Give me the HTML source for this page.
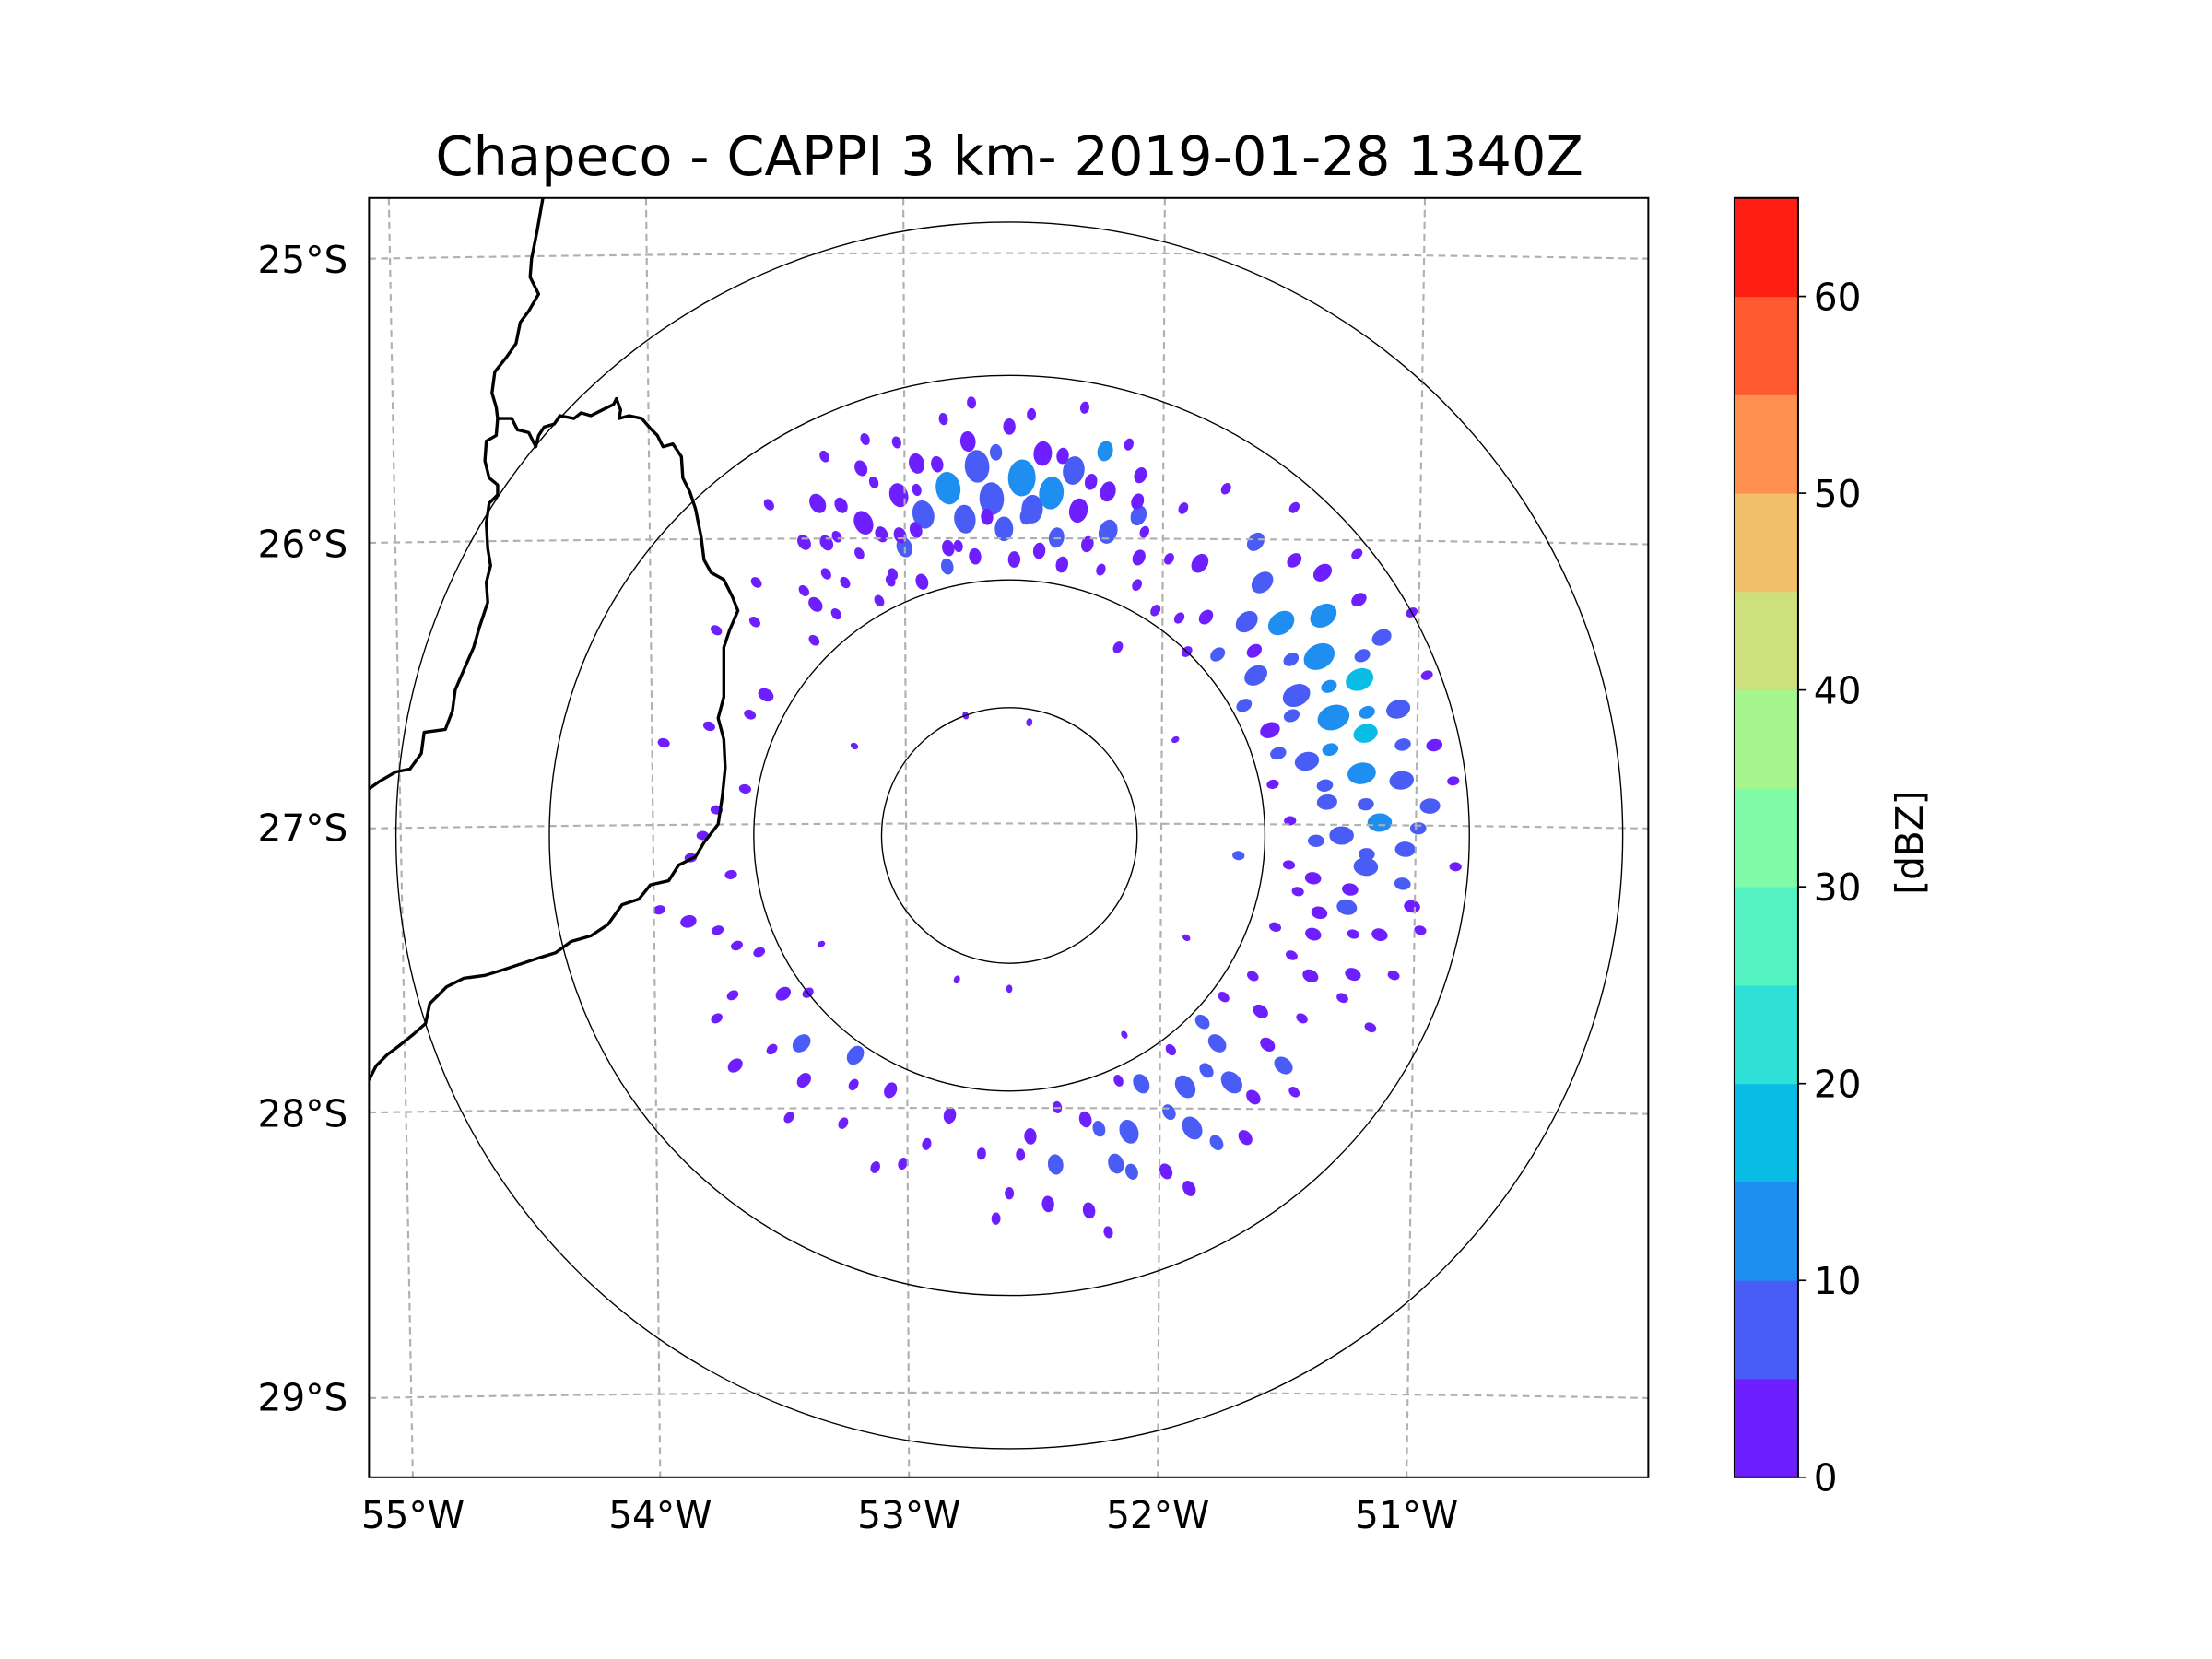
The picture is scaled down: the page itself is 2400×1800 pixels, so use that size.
<!DOCTYPE html>
<html><head><meta charset="utf-8"><style>
html,body{margin:0;padding:0;background:#fff;}
svg{display:block;}
text{font-family:"DejaVu Sans","Liberation Sans",sans-serif;fill:#000;}
</style></head><body>
<svg id="chart" width="2400" height="1800" viewBox="0 0 2400 1800" xmlns="http://www.w3.org/2000/svg">
<rect width="2400" height="1800" fill="#fff"/>
<g transform="translate(-3,-3) scale(1.5337)">
  <text x="716" y="126" font-size="38.5" text-anchor="middle">Chapeco - CAPPI 3 km- 2019-01-28 1340Z</text>
  <defs><clipPath id="axclip"><rect x="263" y="142" width="905" height="905"/></clipPath></defs>
  <g clip-path="url(#axclip)" id="plot">
    <g id="echoes"></g>
    <g fill="none" stroke="#b0b0b0" stroke-width="1.4" stroke-dasharray="5,3.5">
      <path d="M277,142 L294,1047"/>
      <path d="M459,142 L469,1047"/>
      <path d="M641,142 L645,1047"/>
      <path d="M826,142 L821,1047"/>
      <path d="M1010,142 L997,1047"/>
      <path d="M263,185 Q716,177 1168,185"/>
      <path d="M263,386 Q716,379 1168,387"/>
      <path d="M263,588 Q716,581 1168,588"/>
      <path d="M263,789 Q716,782 1168,790"/>
      <path d="M263,991 Q716,983 1168,991"/>
    </g>
    <g id="rings" fill="none" stroke="#000" stroke-width="0.9"></g>
    <g fill="none" stroke="#000" stroke-width="2.2" stroke-linejoin="round">
      <path d="M386,142 L382,165 L378,185 L377,198 L383,210 L376,222 L370,230 L367,245 L360,255 L352,265 L350,280 L353,290 L354,298 L353,310 L346,314 L345,328 L348,340 L354,345 L354,352 L348,358 L346,372 L347,390 L349,402 L346,414 L347,428 L341,446 L337,460 L330,476 L324,490 L322,505 L317,518 L302,520 L300,535 L292,546 L282,548 L270,555 L263,560"/>
      <path d="M354,298 L364,298 L368,306 L376,308 L381,318 L383,310 L387,304 L394,302 L398,296 L408,298 L413,294 L420,296 L430,291 L436,288 L438,284 L441,292 L440,298 L447,296 L456,298 L462,305 L467,310 L471,318 L478,316 L484,325 L485,340 L490,350 L494,362 L498,382 L500,398 L505,407 L514,412 L520,424 L524,434 L518,448 L514,460 L514,478 L514,495 L510,510 L514,525 L515,545 L513,565 L510,585 L500,598 L494,608 L482,614 L475,625 L462,628 L454,638 L442,642 L432,656 L420,664 L406,668 L395,676 L382,680 L370,684 L358,688 L345,692 L330,694 L318,700 L306,712 L303,726 L294,734 L284,742 L276,748 L268,756 L263,766"/>
    </g>
  </g>
  <rect x="263" y="142" width="905" height="905" fill="none" stroke="#000" stroke-width="1.3"/>
  <g font-size="26.5">
    <text x="294" y="1083" text-anchor="middle">55°W</text>
    <text x="469" y="1083" text-anchor="middle">54°W</text>
    <text x="645" y="1083" text-anchor="middle">53°W</text>
    <text x="821" y="1083" text-anchor="middle">52°W</text>
    <text x="997" y="1083" text-anchor="middle">51°W</text>
  </g>
  <g font-size="26.5" text-anchor="end">
    <text x="248" y="195">25°S</text>
    <text x="248" y="396">26°S</text>
    <text x="248" y="597">27°S</text>
    <text x="248" y="799">28°S</text>
    <text x="248" y="1000">29°S</text>
  </g>
  <g id="colorbar"></g>
  <text transform="translate(1362,598) rotate(-90)" font-size="26.5" text-anchor="middle">[dBZ]</text>
</g>
</svg>
<script>
const NS = "http://www.w3.org/2000/svg";
// colour levels (dBZ)
const levels = [0,5,10,15,20,25,30,35,40,45,50,55,60,65];
const levelColors = ["#6e1fff","#4a5cf6","#1e8ff0","#0abde6","#2ee0d6","#55f2c2","#80fca8","#a6f68e","#cee07c","#f2c06a","#ff9050","#ff5a30","#ff1e14"];
const cbTicks = [0,10,20,30,40,50,60];
const ringKm = [50,100,180,240];
// echoes: azimuth (deg from north), range (km), reflectivity (dBZ), size (km)
const echoAzA = [-35,-30,-28,-25,-22,-20,-18,-15,-14,-12,-10,-8,-6,-5,-3,-1,0,2,4,5,7,9,10,12,14,16,18,20,22,25,-20,-5,10,-40,-45,
 35,40,42,45,48,50,52,55,57,60,62,64,66,68,70,72,74,76,78,80,82,84,86,88,90,92,95,98,100,102,105,108,112,115,118,
 125,130,135,138,142,145,148,152,155,158,162,165,168,172,176,180,
 185,192,198,205,210,215,220,225,230,235,240,248,255,262,270,280,290,300,310,320,330,340,
 10,60,120,200,300,30,150,240,340,95,180];
const echoRangeA = [140,150,125,135,155,120,140,130,150,115,138,125,155,145,132,120,160,140,128,150,135,118,145,130,155,140,125,150,135,120,165,170,170,125,140,
 130,150,115,140,125,160,135,150,115,140,165,125,150,110,135,160,145,120,170,140,155,125,165,145,130,155,140,120,160,135,150,125,145,130,160,
 120,140,115,130,150,120,135,110,145,125,135,115,150,130,118,140,
 125,112,135,110,130,105,125,115,140,108,125,115,130,110,120,105,125,110,130,118,135,125,
 45,75,80,60,70,85,90,85,50,90,60];
const echoDbzA = [2,3,1,4,2,6,3,8,2,4,12,6,3,9,5,7,2,10,6,4,12,5,7,4,13,3,8,2,5,3,2,1,2,2,1,
 3,5,2,8,6,4,11,14,6,12,5,9,16,4,13,8,17,6,4,11,9,5,6,12,7,5,9,4,3,6,4,3,2,3,2,
 3,5,6,8,4,9,7,5,4,8,6,4,3,5,4,2,
 2,3,2,4,2,5,3,6,2,4,3,2,3,2,1,2,2,3,2,3,2,4,
 3,2,3,2,2,4,2,2,3,5,2];
const echoSizeA = [4,5,3,6,4,5,6,7,5,4,8,7,5,8,8,6,4,9,7,6,8,5,7,6,5,5,6,4,5,4,3,3,3,3,3,
 5,5,4,6,6,5,7,7,6,8,5,7,7,5,8,6,6,6,4,7,6,5,5,6,6,5,6,4,4,5,4,4,4,4,3,
 4,5,5,6,4,6,6,5,4,6,5,4,4,5,4,3,
 3,4,3,4,3,5,4,5,4,4,3,3,4,3,3,3,3,4,3,4,3,4,
 2,2,2,2,2,3,2,2,2,3,2];
const echoAzB = [-38,-36,-33,-32,-29,-27,-26,-24,-23,-21,-19,-17,-16,-13,-11,-9,-7,-4,-2,1,3,3,6,8,11,13,15,17,19,21,24,27,28,30,32,33,
 38,41,44,46,49,51,53,56,58,61,61,63,65,67,69,71,73,75,77,79,81,83,85,87,89,91,93,94,96,97,99,101,103,104,106,109,110,113,116,120,122,
 127,129,132,134,137,140,143,146,150,153,156,160,163,166,170,174,178,182,
 195,202,212,218,228,232,238,245,252,258,266,275,285,295,305,315,325,335,345,350];
const echoRangeB = [110,160,118,135,105,145,165,112,128,148,105,125,160,108,148,165,110,125,150,108,125,165,112,150,108,142,118,160,110,140,130,110,145,125,160,105,
 108,170,100,155,108,175,120,165,130,105,180,155,138,120,175,148,110,130,158,105,125,175,140,110,160,120,140,175,110,155,135,115,165,125,140,110,160,120,145,110,135,
 105,130,150,105,140,120,105,145,125,155,105,140,120,160,108,145,125,150,
 125,140,115,140,125,100,135,108,120,140,125,115,140,112,140,108,125,110,140,115];
const echoDbzB = [1,2,1,2,1,3,1,2,4,1,3,2,1,5,2,1,4,3,6,2,5,1,3,2,4,2,3,1,2,3,2,1,2,1,1,2,
 2,1,3,4,5,2,4,3,7,5,2,9,11,7,3,10,5,14,7,3,8,3,9,4,6,5,8,2,3,5,4,3,3,4,3,2,3,2,3,2,2,
 2,4,2,5,4,6,3,5,7,4,3,6,5,3,2,4,3,2,
 1,2,2,3,4,2,2,2,3,2,1,2,1,2,2,2,3,2,2,2];
const echoSizeB = [3,3,3,4,3,4,3,3,4,3,4,4,3,4,4,3,4,4,4,4,4,3,4,4,4,4,4,3,3,4,3,3,3,3,3,3,
 3,3,3,4,4,3,4,4,4,4,3,4,4,4,3,4,4,4,4,3,4,3,4,3,4,4,4,3,3,4,4,3,3,4,3,3,3,3,3,3,3,
 3,4,3,4,4,4,3,4,4,4,3,4,4,3,3,4,3,3,
 3,3,3,3,3,3,3,3,3,3,3,3,3,3,3,3,3,3,3,3];
const echoAz = echoAzA.concat(echoAzB);
const echoRange = echoRangeA.concat(echoRangeB);
const echoDbz = echoDbzA.concat(echoDbzB);
const echoSize = echoSizeA.concat(echoSizeB);

const cx = 716, cy = 593, pxPerKm = 1.808;
function rPx(km){ return km*pxPerKm; }
function polarX(az, km){ return cx + rPx(km)*Math.sin(az*Math.PI/180); }
function polarY(az, km){ return cy - rPx(km)*Math.cos(az*Math.PI/180); }
function colorFor(v){ for(let i=levels.length-2;i>=0;i--){ if(v>=levels[i]) return levelColors[i]; } return levelColors[0]; }

const eg = document.getElementById('echoes');
for(let i=0;i<echoAz.length;i++){
  const e = document.createElementNS(NS,'ellipse');
  const x = polarX(echoAz[i], echoRange[i]), y = polarY(echoAz[i], echoRange[i]);
  e.setAttribute('cx', x); e.setAttribute('cy', y);
  e.setAttribute('rx', rPx(echoSize[i])*0.8); e.setAttribute('ry', rPx(echoSize[i])*0.6);
  e.setAttribute('transform', 'rotate(' + (echoAz[i]+90) + ' ' + x + ' ' + y + ')');
  e.setAttribute('fill', colorFor(echoDbz[i]));
  
  
  eg.appendChild(e);
}
const rg = document.getElementById('rings');
ringKm.forEach(function(k){
  const c = document.createElementNS(NS,'circle');
  c.setAttribute('cx', cx); c.setAttribute('cy', cy); c.setAttribute('r', rPx(k));
  
  
  rg.appendChild(c);
});
// colorbar
const cb = document.getElementById('colorbar');
const cbX = 1229, cbW = 45, cbTop = 142, cbBot = 1047;
const vmin = levels[0], vmax = levels[levels.length-1];
function cbY(v){ return cbBot - (v - vmin)/(vmax - vmin)*(cbBot - cbTop); }
for(let i=0;i<levelColors.length;i++){
  const r = document.createElementNS(NS,'rect');
  r.setAttribute('x', cbX); r.setAttribute('width', cbW);
  r.setAttribute('y', cbY(levels[i+1])); r.setAttribute('height', cbY(levels[i]) - cbY(levels[i+1]) + 0.3);
  r.setAttribute('fill', levelColors[i]);
  
  
  cb.appendChild(r);
}
const fr = document.createElementNS(NS,'rect');
fr.setAttribute('x', cbX); fr.setAttribute('y', cbTop); fr.setAttribute('width', cbW); fr.setAttribute('height', cbBot-cbTop);
fr.setAttribute('fill','none'); fr.setAttribute('stroke','#000'); fr.setAttribute('stroke-width','1.3');


cb.appendChild(fr);
cbTicks.forEach(function(t){
  const y = cbY(t);
  const l = document.createElementNS(NS,'line');
  l.setAttribute('x1', cbX+cbW); l.setAttribute('x2', cbX+cbW+6); l.setAttribute('y1', y); l.setAttribute('y2', y);
  l.setAttribute('stroke','#000'); l.setAttribute('stroke-width','1.1');
  
  
  cb.appendChild(l);
  const tx = document.createElementNS(NS,'text');
  tx.setAttribute('x', cbX+cbW+11); tx.setAttribute('y', y+9.7); tx.setAttribute('font-size','26.5');
  tx.textContent = t;
  
  
  cb.appendChild(tx);
});
</script>
</body></html>
